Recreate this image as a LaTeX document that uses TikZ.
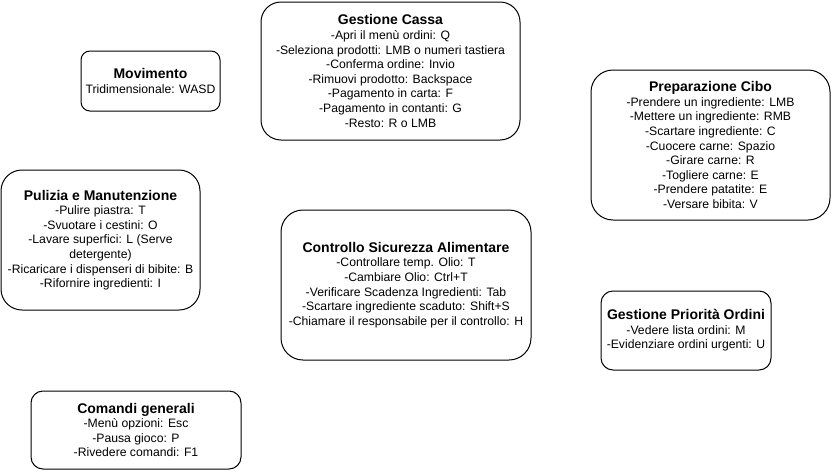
\documentclass[tikz,border=0pt]{standalone}
\usepackage{fontspec}
\setmainfont{Liberation Sans}
\newcommand{\btitle}[1]{{\fontsize{14}{14.6}\selectfont\bfseries #1}}
\begin{document}
\begin{tikzpicture}[x=1pt,y=-1pt,
  cbox/.style={draw=black, line width=1pt, fill=white, inner sep=0pt, align=center,
    font=\fontsize{12.2}{14.6}\selectfont, text=black}]
\useasboundingbox[fill=white] (0,0) rectangle (831,472);
\node[cbox, minimum width=139pt, minimum height=60pt, rounded corners=9pt] (mov) at (150.5,81)
  {\btitle{Movimento}\\Tridimensionale: WASD};
\node[cbox, minimum width=259pt, minimum height=138pt, rounded corners=20pt] (cassa) at (390.5,71)
  {\btitle{Gestione Cassa}\\-Apri il menù ordini: Q\\-Seleziona prodotti: LMB o numeri tastiera\\-Conferma ordine: Invio\\-Rimuovi prodotto: Backspace\\-Pagamento in carta: F\\-Pagamento in contanti: G\\-Resto: R o LMB};
\node[cbox, minimum width=239pt, minimum height=150pt, rounded corners=22pt] (cibo) at (710.5,145)
  {\btitle{Preparazione Cibo}\\-Prendere un ingrediente: LMB\\-Mettere un ingrediente: RMB\\-Scartare ingrediente: C\\-Cuocere carne: Spazio\\-Girare carne: R\\-Togliere carne: E\\-Prendere patatite: E\\-Versare bibita: V};
\node[cbox, minimum width=199pt, minimum height=140pt, rounded corners=21pt] (pul) at (100.5,240)
  {\btitle{Pulizia e Manutenzione}\\-Pulire piastra: T\\-Svuotare i cestini: O\\-Lavare superfici: L (Serve\\detergente)\\-Ricaricare i dispenseri di bibite: B\\-Rifornire ingredienti: I};
\node[cbox, minimum width=250pt, minimum height=150pt, rounded corners=22pt] (ctrl) at (406,285)
  {\btitle{Controllo Sicurezza Alimentare}\\-Controllare temp. Olio: T\\-Cambiare Olio: Ctrl+T\\-Verificare Scadenza Ingredienti: Tab\\-Scartare ingrediente scaduto: Shift+S\\-Chiamare il responsabile per il controllo: H};
\node[cbox, minimum width=170pt, minimum height=79pt, rounded corners=12pt] (prio) at (686,330.5)
  {\btitle{Gestione Priorità Ordini}\\-Vedere lista ordini: M\\-Evidenziare ordini urgenti: U};
\node[cbox, minimum width=210pt, minimum height=78pt, rounded corners=12pt] (com) at (136,430)
  {\btitle{Comandi generali}\\-Menù opzioni: Esc\\-Pausa gioco: P\\-Rivedere comandi: F1};
\end{tikzpicture}
\end{document}
